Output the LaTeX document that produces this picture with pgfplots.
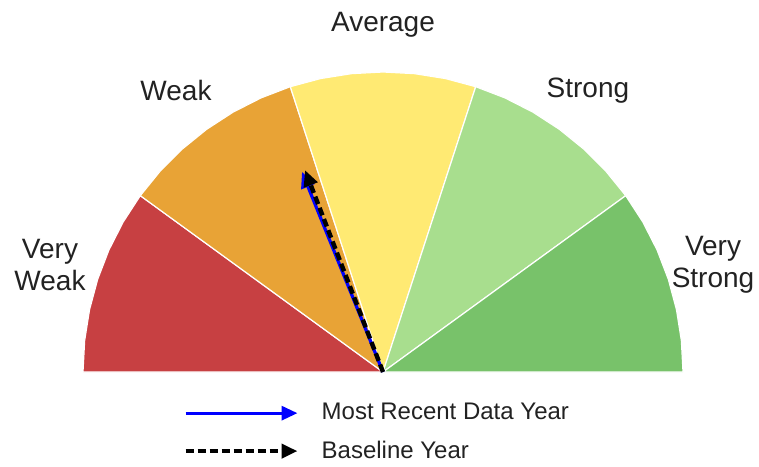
\documentclass[border=0pt]{standalone}
\usepackage{pgfplots}
\pgfplotsset{compat=1.18}
\usepackage{fontspec}
\setmainfont{Liberation Sans}
\usetikzlibrary{arrows.meta}

\definecolor{vweak}{RGB}{199,64,66}
\definecolor{weak}{RGB}{232,163,54}
\definecolor{avg}{RGB}{255,234,115}
\definecolor{strong}{RGB}{168,222,142}
\definecolor{vstrong}{RGB}{120,194,106}
\definecolor{txt}{RGB}{34,34,34}

\begin{document}
\begin{tikzpicture}
\begin{axis}[
    hide axis,
    scale only axis,
    width=379.5pt, height=233pt,
    xmin=-1.27667, xmax=1.25333,
    ymin=-0.31333, ymax=1.24,
    clip=false,
    legend image code/.code={\draw[#1] (0pt,0pt) -- (56pt,0pt);},
    legend cell align=left,
    legend style={draw=none, fill=none, inner sep=0pt,
        at={(axis cs:-0.667,-0.09)}, anchor=north west,
        font=\fontsize{12}{14}\selectfont, text=txt,
        row sep=5pt,
        /tikz/every odd column/.append style={column sep=9pt}},
]
% sectors (unit radius, 36 degrees each)
\addplot[fill=vweak, draw=white, line width=0.6pt, forget plot] coordinates {
  (0,0) (-0.80902,0.58779) (-0.86603,0.5) (-0.91355,0.40674) (-0.95106,0.30902)
  (-0.97815,0.20791) (-0.99452,0.10453) (-1,0)} -- cycle;
\addplot[fill=weak, draw=white, line width=0.6pt, forget plot] coordinates {
  (0,0) (-0.30902,0.95106) (-0.40674,0.91355) (-0.5,0.86603) (-0.58779,0.80902)
  (-0.66913,0.74314) (-0.74314,0.66913) (-0.80902,0.58779)} -- cycle;
\addplot[fill=avg, draw=white, line width=0.6pt, forget plot] coordinates {
  (0,0) (0.30902,0.95106) (0.20791,0.97815) (0.10453,0.99452) (0,1)
  (-0.10453,0.99452) (-0.20791,0.97815) (-0.30902,0.95106)} -- cycle;
\addplot[fill=strong, draw=white, line width=0.6pt, forget plot] coordinates {
  (0,0) (0.80902,0.58779) (0.74314,0.66913) (0.66913,0.74314) (0.58779,0.80902)
  (0.5,0.86603) (0.40674,0.91355) (0.30902,0.95106)} -- cycle;
\addplot[fill=vstrong, draw=white, line width=0.6pt, forget plot] coordinates {
  (0,0) (1,0) (0.99452,0.10453) (0.97815,0.20791) (0.95106,0.30902)
  (0.91355,0.40674) (0.86603,0.5) (0.80902,0.58779)} -- cycle;

% needles
\addplot[blue, line width=1.6pt, -{Triangle[length=8pt,width=7pt]}] coordinates {(0,0) (-0.270,0.667)};
\addlegendentry{Most Recent Data Year}
\addplot[black, line width=2.2pt, dash pattern=on 4pt off 2pt, -{Triangle[length=8pt,width=7pt]}] coordinates {(0,0) (-0.260,0.673)};
\addlegendentry{Baseline Year}

% category labels
\begin{scope}[every node/.style={font=\fontsize{14}{16}\selectfont, text=txt, align=center, inner sep=0pt}]
\node at (axis cs:0,1.157) {Average};
\node at (axis cs:-0.69,0.937) {Weak};
\node at (axis cs:0.683,0.937) {Strong};
\node at (axis cs:-1.11,0.357) {Very\\Weak};
\node at (axis cs:1.10,0.357) {Very\\Strong};
\end{scope}
\coordinate (bl) at (rel axis cs:0,0);
\coordinate (tr) at (rel axis cs:1,1);
\end{axis}
\pgfresetboundingbox
\useasboundingbox (bl) rectangle (tr);
\end{tikzpicture}
\end{document}
